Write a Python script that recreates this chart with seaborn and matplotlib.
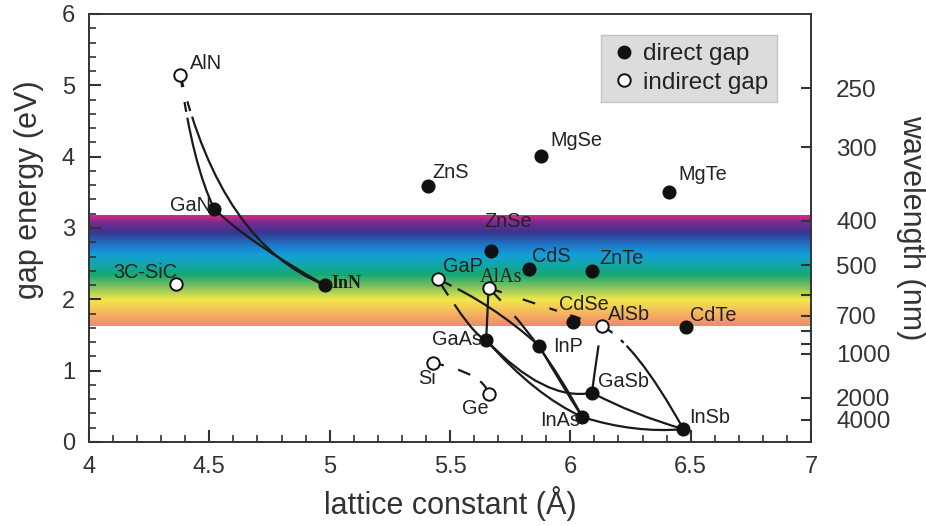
import numpy as np
import pandas as pd
import matplotlib
matplotlib.use("Agg")
import matplotlib.pyplot as plt
import seaborn as sns
from matplotlib.path import Path
from matplotlib.patches import PathPatch
from matplotlib.colors import LinearSegmentedColormap
from matplotlib.lines import Line2D
import matplotlib.ticker as mticker

# ---------------- data ----------------
materials = ["AlN", "GaN", "InN", "3C-SiC", "ZnS", "MgSe", "MgTe", "ZnSe", "CdS", "ZnTe",
             "GaP", "AlAs", "CdSe", "AlSb", "CdTe", "GaAs", "InP", "Si", "Ge", "GaSb",
             "InAs", "InSb"]
lattice = [4.38, 4.52, 4.98, 4.36, 5.41, 5.88, 6.41, 5.67, 5.83, 6.09,
           5.45, 5.66, 6.01, 6.13, 6.48, 5.65, 5.87, 5.43, 5.66, 6.09,
           6.05, 6.47]
gap = [5.14, 3.27, 2.20, 2.21, 3.59, 4.01, 3.50, 2.68, 2.42, 2.40,
       2.28, 2.16, 1.68, 1.63, 1.61, 1.43, 1.35, 1.11, 0.67, 0.69,
       0.35, 0.18]
gap_type = ["indirect gap", "direct gap", "direct gap", "indirect gap", "direct gap",
            "direct gap", "direct gap", "direct gap", "direct gap", "direct gap",
            "indirect gap", "indirect gap", "direct gap", "indirect gap", "direct gap",
            "direct gap", "direct gap", "indirect gap", "indirect gap", "direct gap",
            "direct gap", "direct gap"]

# alloy curves: endpoints and bowing control point (lattice, gap)
alloy_from = ["AlN", "AlN", "GaN", "GaP", "GaP", "AlAs", "AlAs", "InP", "GaAs", "GaAs",
              "GaSb", "InAs", "AlSb", "AlSb", "AlAs", "Si"]
alloy_to = ["GaN", "InN", "InN", "GaAs", "InP", "GaAs", "InAs", "InAs", "InAs", "GaSb",
            "InSb", "InSb", "GaSb", "InSb", "AlSb", "Ge"]
alloy_ctrl_a = [4.431, 4.549, 4.663, 5.598, 5.674, 5.656, 5.878, 5.961, 5.853, 5.895,
                6.262, 6.267, 6.107, 6.270, 5.895, 5.645]
alloy_ctrl_e = [3.890, 2.783, 2.797, 1.479, 1.942, 1.795, 1.437, 0.813, 0.652, 0.561,
                0.384, 0.120, 1.150, 1.394, 1.895, 0.953]

# rainbow band (visible range) gap energies and colours
band_e = [1.626, 1.780, 1.991, 2.159, 2.341, 2.481, 2.622, 2.762, 2.944, 3.084, 3.182]
band_colors = ["#f08a70", "#f5b060", "#f2e84a", "#8cc45c", "#17a872", "#12a6a8",
               "#14a0d8", "#1e78c8", "#38358f", "#7b2a8e", "#d42a8a"]

# right axis: wavelengths (nm)
wl_ticks = [250, 300, 400, 500, 600, 700, 800, 900, 1000, 2000, 4000]
wl_labels = ["250", "300", "400", "500", "", "700", "", "", "1000", "2000", "4000"]

# ---------------- layout / style ----------------
label_pos = {
    "AlN": (4.420, 5.30, "left"), "GaN": (4.507, 3.31, "right"), "InN": (5.006, 2.215, "left"),
    "3C-SiC": (4.100, 2.383, "left"), "ZnS": (5.425, 3.785, "left"), "MgSe": (5.915, 4.22, "left"),
    "MgTe": (6.447, 3.743, "left"), "ZnSe": (5.641, 3.098, "left"), "CdS": (5.841, 2.594, "left"),
    "ZnTe": (6.119, 2.566, "left"), "GaP": (5.471, 2.467, "left"), "AlAs": (5.625, 2.313, "left"),
    "CdSe": (5.953, 1.921, "left"), "AlSb": (6.157, 1.794, "left"), "CdTe": (6.497, 1.780, "left"),
    "GaAs": (5.633, 1.430, "right"), "InP": (5.928, 1.332, "left"), "Si": (5.367, 0.897, "left"),
    "Ge": (5.550, 0.463, "left"), "GaSb": (6.115, 0.855, "left"), "InAs": (5.874, 0.308, "left"),
    "InSb": (6.493, 0.350, "left"),
}
alloy_dash = [
    (0, (8.6, 10.8, 7.2, 4.3, 1000, 1)),
    (0, (8.6, 10.8, 7.2, 4.3, 1000, 1)),
    "solid",
    (0, (13.7, 7.9, 1000, 1)),
    (0, (10.8, 5.0, 1000, 1)),
    "solid",
    (0, (12.7, 15.0, 1000, 1)),
    "solid", "solid", "solid", "solid", "solid",
    (0, (4.3, 10.0, 1000, 1)),
    (0, (9.4, 7.9, 2.9, 2.9, 1000, 1)),
    (0, (10.0, 16.0, 9.4, 10.8, 5.8, 10.0, 8.0, 100)),
    (0, (7.9, 10.8, 9.4, 8.6, 7.2, 40)),
]

sns.set_theme(style="white")
plt.rcParams["font.family"] = ["Liberation Sans", "DejaVu Sans"]
plt.rcParams["lines.scale_dashes"] = False

df = pd.DataFrame({"material": materials, "lattice": lattice, "gap": gap, "type": gap_type})
pos = {m: (a, e) for m, a, e in zip(materials, lattice, gap)}

fig = plt.figure(figsize=(9.26, 5.26), dpi=100)
ax = fig.add_axes([89 / 926, 1 - 442 / 526, 722 / 926, 428 / 526])

# rainbow band
lo, hi = band_e[0], band_e[-1]
stops = [((e - lo) / (hi - lo), c) for e, c in zip(band_e, band_colors)]
cmap = LinearSegmentedColormap.from_list("band", stops)
grad = np.linspace(hi, lo, 400)[:, None]
ax.imshow(grad, extent=[4, 7, lo, hi], aspect="auto", cmap=cmap, vmin=lo, vmax=hi,
          zorder=0, interpolation="bilinear")

# alloy curves
for f, t, ca, ce, ls in zip(alloy_from, alloy_to, alloy_ctrl_a, alloy_ctrl_e, alloy_dash):
    p = Path([pos[f], (ca, ce), pos[t]], [Path.MOVETO, Path.CURVE3, Path.CURVE3])
    ax.add_patch(PathPatch(p, fill=False, edgecolor="#1a1a1a", lw=1.6, linestyle=ls,
                           capstyle="butt", zorder=3))

# points
sns.scatterplot(data=df[df["type"] == "direct gap"], x="lattice", y="gap", ax=ax,
                color="#111111", edgecolor="#111111", linewidth=1.2, s=80, zorder=5,
                legend=False)
sns.scatterplot(data=df[df["type"] == "indirect gap"], x="lattice", y="gap", ax=ax,
                color="white", edgecolor="#111111", linewidth=1.4, s=80, zorder=5,
                legend=False)

# labels
for m in materials:
    x, y, ha = label_pos[m]
    if m == "InN":
        ax.text(x, y, m, ha=ha, va="center", fontsize=13, fontweight="bold",
                family=["Liberation Serif", "DejaVu Serif"], color="#1a1a1a", zorder=6)
    elif m == "AlAs":
        ax.text(x, y, m, ha=ha, va="center", fontsize=14.5,
                family=["Liberation Serif", "DejaVu Serif"], color="#222222", zorder=6)
    else:
        ax.text(x, y, m, ha=ha, va="center", fontsize=14.3, color="#222222", zorder=6)

ax.set_xlim(4, 7)
ax.set_ylim(0, 6)
ax.xaxis.set_major_locator(mticker.MultipleLocator(0.5))
ax.xaxis.set_minor_locator(mticker.MultipleLocator(0.1))
ax.yaxis.set_major_locator(mticker.MultipleLocator(1))
ax.yaxis.set_minor_locator(mticker.MultipleLocator(0.2))
ax.xaxis.set_major_formatter(mticker.FormatStrFormatter("%g"))
ax.tick_params(which="both", direction="in", top=False, right=False, left=True,
               bottom=True, color="#333333")
ax.tick_params(which="major", length=8.6, width=1.5, labelsize=17, pad=10,
               labelcolor="#333333")
ax.tick_params(which="minor", length=5, width=1.2)
ax.set_xlabel("lattice constant (Å)", fontsize=22, color="#333333", labelpad=6)
ax.set_ylabel("gap energy (eV)", fontsize=22, color="#333333", labelpad=10)
ax.yaxis.set_label_coords(-0.062, 0.59)
for s in ax.spines.values():
    s.set_color("#333333")
    s.set_linewidth(1.2)
ax.grid(False)

# right axis (wavelength)
ax2 = ax.twinx()
ax2.set_ylim(0, 6)
ax2.set_yticks([1240.0 / w for w in wl_ticks])
ax2.set_yticklabels(wl_labels)
ax2.tick_params(axis="y", direction="in", length=7, width=1.5, labelsize=17.5, pad=18,
                color="#333333", labelcolor="#333333")
ax2.set_ylabel("wavelength (nm)", fontsize=22, color="#333333", rotation=270, labelpad=26)
for s in ax2.spines.values():
    s.set_color("#333333")
    s.set_linewidth(1.2)
ax2.grid(False)

# legend
handles = [
    Line2D([], [], marker="o", ls="none", markersize=9, markerfacecolor="#111111",
           markeredgecolor="#111111", label="direct gap"),
    Line2D([], [], marker="o", ls="none", markersize=9, markerfacecolor="white",
           markeredgecolor="#111111", markeredgewidth=1.4, label="indirect gap"),
]
leg = ax2.legend(handles=handles, loc="upper right", bbox_to_anchor=(0.953, 0.951),
                 borderaxespad=0, frameon=True, fancybox=False, framealpha=1,
                 facecolor="#dcdcdc", edgecolor="#c4c4c4", fontsize=17.5,
                 handletextpad=0.2, handlelength=1.2, borderpad=0.35, labelspacing=0.25)
for t in leg.get_texts():
    t.set_color("#222222")

fig.savefig("out.png", dpi=100)
